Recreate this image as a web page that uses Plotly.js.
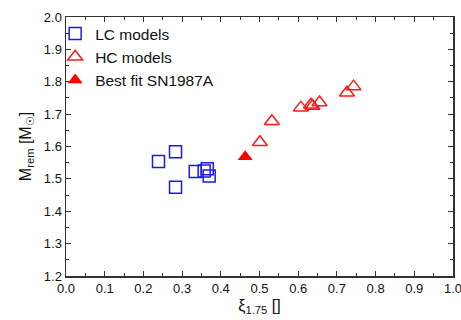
<!DOCTYPE html>
<html><head><meta charset="utf-8">
<script src="https://cdn.plot.ly/plotly-3.0.1.min.js"></script>
<style>html,body{margin:0;padding:0;background:#fff}#c{width:461px;height:320px}</style>
</head><body><div id="c"></div>
<script>
const lcX = [0.239, 0.283, 0.283, 0.334, 0.357, 0.365, 0.370];
const lcY = [1.554, 1.584, 1.474, 1.523, 1.524, 1.531, 1.509];
const hcX = [0.501, 0.532, 0.607, 0.633, 0.637, 0.655, 0.726, 0.743];
const hcY = [1.613, 1.678, 1.720, 1.729, 1.725, 1.736, 1.766, 1.785];
const bestX = [0.463];
const bestY = [1.568];
const xTicks = [0,0.1,0.2,0.3,0.4,0.5,0.6,0.7,0.8,0.9,1.0];
const yTicks = [1.2,1.3,1.4,1.5,1.6,1.7,1.8,1.9,2.0];

const font = {family:'Liberation Sans, Arial, sans-serif', color:'#111'};
const data = [
 {x:lcX, y:lcY, type:'scatter', mode:'markers', name:'LC models',
  marker:{symbol:'square-open', size:12, color:'#1a1aee', line:{width:1.5}}},
 {x:hcX, y:hcY, type:'scatter', mode:'markers', name:'HC models',
  marker:{symbol:'triangle-up-open', size:13, color:'#ff1a1a', line:{width:1.5}}},
 {x:bestX, y:bestY, type:'scatter', mode:'markers', name:'Best fit SN1987A',
  marker:{symbol:'triangle-up', size:13, color:'#ff0000'}}
];
const axBase = {showgrid:false, zeroline:false, showline:true, linecolor:'#333', linewidth:1.5,
  ticks:'inside', ticklen:5, tickwidth:1, tickcolor:'#333', mirror:'allticks',
  tickfont:{...font, size:13}, tickformat:'.1f', ticklabeloverflow:'allow',
  minor:{ticks:'inside', ticklen:3, tickcolor:'#333', showgrid:false}};
const layout = {
 width:461, height:320, margin:{l:66, r:8, t:17, b:44},
 paper_bgcolor:'#fff', plot_bgcolor:'#fff', font:font,
 showlegend:true,
 legend:{x:-0.028, y:1.0, xanchor:'left', yanchor:'top', bgcolor:'rgba(0,0,0,0)',
   font:{...font, size:15.5}, tracegroupgap:0, itemwidth:30},
 xaxis:{...axBase, range:[0,1], tickvals:xTicks, minor:{...axBase.minor, dtick:0.05},
   title:{text:'ξ<sub>1.75</sub> []', font:{...font, size:16}, standoff:4}},
 yaxis:{...axBase, range:[1.2,2.0], tickvals:yTicks, minor:{...axBase.minor, dtick:0.05},
   title:{text:'M<sub>rem</sub> [M<sub>☉</sub>]', font:{...font, size:16}, standoff:8}}
};
Plotly.newPlot('c', data, layout, {staticPlot:true, displayModeBar:false});
</script></body></html>
